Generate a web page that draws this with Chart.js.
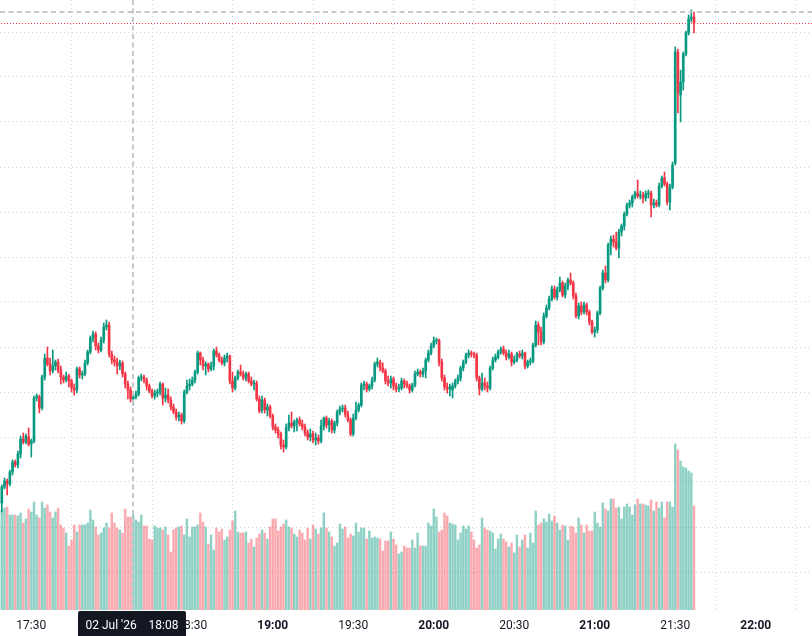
<!DOCTYPE html>
<html>
<head>
<meta charset="utf-8">
<script src="https://cdn.jsdelivr.net/npm/chart.js@4.4.0/dist/chart.umd.min.js"></script>
<style>
html,body{margin:0;padding:0;background:#ffffff;}
canvas{display:block;}
</style>
</head>
<body>
<canvas id="c" width="812" height="636"></canvas>
<script>
// ---- data (1-minute bars) ----
const firstBarTime = '17:19';
const timeTicks = ['17:30','18:00','18:30','19:00','19:30','20:00','20:30','21:00','21:30','22:00'];
const priceGrid = [45,90,135,180,225,270,315,360,405,450,495,540,585];

const opens = [
114,130,136,133,145,155,152,163,178,175,180,173,
176,219,220,209,240,259,253,246,251,255,
247,240,237,241,236,229,227,248,242,243,
254,265,279,283,271,267,277,290,292,263,
257,255,251,254,243,233,227,218,220,223,
239,240,237,231,226,221,224,225,233,219,
222,217,210,205,200,202,196,225,231,233,
237,245,264,257,251,253,248,251,266,262,
257,254,259,261,236,229,239,245,243,239,
243,236,233,234,218,207,217,207,210,201,
190,187,183,172,170,189,194,191,195,197,
193,190,184,180,183,177,179,176,191,199,
192,196,187,194,205,208,209,203,197,183,
199,207,212,232,233,228,231,237,253,255,
249,246,236,234,238,231,228,229,236,233,
231,227,232,243,245,243,246,257,264,271,
276,277,255,239,230,228,227,231,236,239,
249,255,262,264,263,262,239,228,234,231,
229,249,257,260,265,268,264,260,263,255,
257,263,261,264,251,255,256,272,292,285,
275,301,309,318,328,320,327,334,322,331,
337,334,321,301,311,305,312,305,295,285,
287,304,329,344,337,372,378,375,369,385,
391,403,412,414,420,424,421,422,419,423,
424,412,414,412,431,439,433,415,430,454,
565,522,535,563,584,598,600];

const highs = [
132,139,138,147,157,157,166,181,184,183,189,178,
221,223,222,242,263,270,259,267,257,258,
251,242,245,243,238,233,250,250,246,257,
267,281,286,285,274,280,294,297,295,266,
261,259,257,256,245,236,230,225,226,241,
243,242,239,233,228,227,228,235,234,229,
228,220,213,208,205,204,227,237,238,240,
247,266,265,260,255,254,255,268,270,264,
260,262,264,262,245,241,247,252,246,245,
245,240,237,236,221,221,219,213,212,203,
193,190,185,177,193,202,205,197,199,200,
197,193,187,188,186,184,182,197,200,201,
199,198,196,207,211,212,212,206,199,203,
215,214,234,236,235,233,240,255,259,257,
254,248,241,241,240,234,233,239,238,236,
233,234,246,248,247,249,259,267,274,280,
279,278,258,242,234,233,234,238,242,251,
257,264,267,266,265,264,241,244,239,235,
251,260,263,267,270,271,267,267,265,261,
265,266,267,265,257,259,274,296,295,290,
304,312,321,331,331,330,340,336,334,339,
344,336,324,314,315,315,314,307,297,290,
306,331,347,351,374,381,382,385,388,393,
405,414,417,422,426,437,426,425,426,427,
426,418,417,434,441,445,435,433,455,570,
568,547,565,586,602,607,605];

const lows = [
105,128,122,131,142,150,149,159,173,173,171,160,
174,216,204,207,237,251,242,244,247,244,
233,234,235,230,225,222,224,239,238,241,
252,263,275,267,264,265,274,287,260,253,
251,243,247,240,229,218,215,212,218,221,
236,234,227,224,219,218,220,222,212,215,
214,207,203,197,196,193,194,223,227,231,
234,243,252,247,242,245,246,247,260,255,
252,251,255,233,225,227,237,241,237,236,
234,231,227,216,204,204,204,201,199,187,
184,179,168,165,168,186,189,185,186,191,
187,181,177,176,174,172,173,174,187,189,
185,184,184,191,202,205,200,195,181,181,
197,205,210,227,225,226,228,235,250,246,
244,233,231,229,227,225,225,227,229,229,
224,225,230,241,240,240,239,255,262,269,
273,251,236,227,224,221,219,229,233,236,
246,253,259,260,259,236,222,226,227,225,
227,247,255,258,263,262,257,258,251,253,
255,259,258,248,249,252,254,270,272,272,
273,299,307,316,318,317,325,320,319,327,
332,318,299,298,302,303,302,292,283,280,
284,302,327,334,335,362,370,367,359,381,
387,401,409,410,418,419,418,414,416,419,
400,409,410,410,429,431,412,407,428,452,
504,495,527,561,582,595,584];

const closes = [
130,136,133,145,155,152,163,178,175,181,173,176,
219,221,209,240,259,253,246,251,255,247,
240,237,241,236,229,227,248,242,243,254,
265,279,283,271,267,277,290,292,263,257,
255,251,254,243,233,227,218,220,223,239,
240,237,231,226,221,224,225,233,219,222,
217,210,205,200,202,196,225,231,233,237,
245,264,257,251,253,248,251,266,262,257,
254,259,261,236,229,239,245,243,239,243,
236,233,234,218,206,217,207,210,201,190,
187,183,172,170,189,194,191,195,197,193,
190,184,180,183,177,179,176,191,199,192,
196,187,194,205,208,209,203,197,183,199,
207,212,232,233,228,231,237,253,255,249,
246,236,234,238,231,228,229,236,233,231,
227,232,243,245,243,246,257,264,271,276,
277,255,239,230,228,230,231,236,239,249,
255,262,264,263,262,239,228,234,231,229,
249,257,260,265,268,264,260,263,255,257,
263,261,264,251,255,256,272,292,285,275,
301,309,318,328,320,327,334,322,331,337,
334,321,301,311,305,312,305,295,285,287,
304,329,344,337,372,378,375,369,385,391,
403,412,414,420,424,421,422,419,423,424,
412,414,412,431,439,433,415,430,452,565,
525,535,563,584,598,600,594];

const volumes = [
100,102,103,95,95,95,94,97,87,91,101,98,
108,95,92,108,102,105,98,92,98,102,
85,82,77,64,70,85,78,85,85,85,
87,100,90,83,75,77,82,87,82,97,
87,82,80,77,101,93,93,95,90,88,
95,84,84,71,70,84,82,82,80,83,
75,58,80,82,83,84,75,91,73,83,
83,85,97,88,83,66,75,60,82,78,
81,70,73,80,89,99,78,77,77,78,
67,71,63,72,76,80,77,71,83,91,
91,79,83,86,90,83,82,76,73,80,
77,70,82,71,85,81,76,82,97,82,
78,73,64,67,86,81,83,72,76,74,
87,78,82,82,71,79,72,73,72,71,
59,69,69,78,71,65,56,58,64,62,
62,70,62,77,64,64,64,87,84,101,
93,78,80,97,94,87,86,85,70,77,
84,81,84,78,70,62,65,92,82,80,
79,77,61,71,76,71,68,63,67,57,
75,63,70,75,62,77,67,99,85,87,
91,88,96,89,94,87,80,85,84,70,
84,83,77,92,85,77,85,79,79,98,
87,83,107,101,99,111,111,102,103,91,
103,106,103,95,105,111,106,106,105,104,
110,99,108,102,108,92,108,108,103,166,
160,149,143,142,139,137,104];

const crosshairTime = '18:08';
const crosshairPrice = 605.3;
const crosshairLabel = "02 Jul '26    18:08";

// ---- helpers ----
const toMin = s => { const p = s.split(':').map(Number); return p[0] * 60 + p[1]; };
const start = toMin(firstBarTime);
const minutes = closes.map((_, i) => start + i);
const UP = '#089981', DOWN = '#f23645';
const UP_VOL = 'rgba(8,153,129,0.45)', DOWN_VOL = 'rgba(242,54,69,0.42)';
const isUp = closes.map((c, i) => c >= opens[i]);
const candleColors = isUp.map(u => u ? UP : DOWN);
const volColors = isUp.map(u => u ? UP_VOL : DOWN_VOL);

const GRID = '#d3d6db';

const overlay = {
  id: 'overlay',
  beforeDatasetsDraw(chart) {
    // dotted last-price line, drawn as single red pixels every 3px
    const {ctx, chartArea: a, scales: {y}} = chart;
    ctx.save();
    const ly = Math.round(y.getPixelForValue(closes[closes.length - 1]));
    ctx.fillStyle = DOWN;
    for (let px = a.left + 1; px < a.right; px += 3) ctx.fillRect(px, ly, 1, 1);
    ctx.restore();
  },
  afterDraw(chart) {
    const {ctx, chartArea: a, scales: {x, y}} = chart;
    ctx.save();
    const cx = Math.round(x.getPixelForValue(toMin(crosshairTime)));
    const cy = Math.round(y.getPixelForValue(crosshairPrice));
    ctx.strokeStyle = '#c6c7ca';
    ctx.lineWidth = 2;
    ctx.setLineDash([5, 3.5]);
    ctx.beginPath(); ctx.moveTo(a.left, cy); ctx.lineTo(a.right, cy); ctx.stroke();
    ctx.beginPath(); ctx.moveTo(cx, a.top); ctx.lineTo(cx, a.bottom); ctx.stroke();
    ctx.setLineDash([]);
    // time label on the axis
    const bw = 108, bh = 30, bx = cx - 55, by = a.bottom + 1;
    ctx.fillStyle = '#131722';
    ctx.beginPath();
    if (ctx.roundRect) ctx.roundRect(bx, by, bw, bh, 2); else ctx.rect(bx, by, bw, bh);
    ctx.fill();
    ctx.fillStyle = '#ffffff';
    ctx.font = '12px Roboto, sans-serif';
    ctx.textAlign = 'center';
    ctx.textBaseline = 'middle';
    ctx.fillText(crosshairLabel, bx + bw / 2, 626);
    ctx.restore();
  }
};

new Chart(document.getElementById('c'), {
  type: 'bar',
  data: {
    datasets: [
      {
        label: 'body',
        data: minutes.map((m, i) => ({x: m, y: [opens[i], closes[i]]})),
        backgroundColor: candleColors,
        barThickness: 2,
        minBarLength: 1,
        grouped: false,
        yAxisID: 'y',
        order: 0
      },
      {
        label: 'wick',
        data: minutes.map((m, i) => ({x: m, y: [lows[i], highs[i]]})),
        backgroundColor: candleColors,
        barThickness: 1,
        grouped: false,
        yAxisID: 'y',
        order: 1
      },
      {
        label: 'volume',
        data: minutes.map((m, i) => ({x: m, y: volumes[i]})),
        backgroundColor: volColors,
        barThickness: 1.8,
        grouped: false,
        yAxisID: 'yv',
        order: 2
      }
    ]
  },
  options: {
    responsive: false,
    devicePixelRatio: 1,
    animation: false,
    events: [],
    layout: {padding: {left: 0, right: 0, top: 0, bottom: -6}},
    plugins: {legend: {display: false}, tooltip: {enabled: false}},
    scales: {
      x: {
        type: 'linear',
        offset: false,
        min: toMin('17:30') - 11.67,
        max: toMin('17:30') + 290.98,
        afterBuildTicks: s => { s.ticks = timeTicks.map(t => ({value: toMin(t)})); },
        ticks: {
          autoSkip: false,
          maxRotation: 0,
          padding: 8.8,
          color: '#131722',
          callback: (v, i) => timeTicks[i],
          font: ctx => ({family: 'Roboto, sans-serif', size: 12,
            weight: (timeTicks[ctx.index] || '').endsWith(':00') ? 'bold' : 'normal'})
        },
        grid: {color: GRID, lineWidth: 1, drawTicks: false},
        border: {display: false, dash: [1, 3]}
      },
      y: {
        type: 'linear',
        position: 'right',
        min: 7,
        max: 617,
        afterBuildTicks: s => { s.ticks = priceGrid.map(v => ({value: v})); },
        ticks: {display: false},
        grid: {color: GRID, lineWidth: 1, drawTicks: false},
        border: {display: false, dash: [1, 3]}
      },
      yv: {
        type: 'linear',
        display: false,
        min: 0,
        max: 610
      }
    }
  },
  plugins: [overlay]
});
</script>
</body>
</html>
